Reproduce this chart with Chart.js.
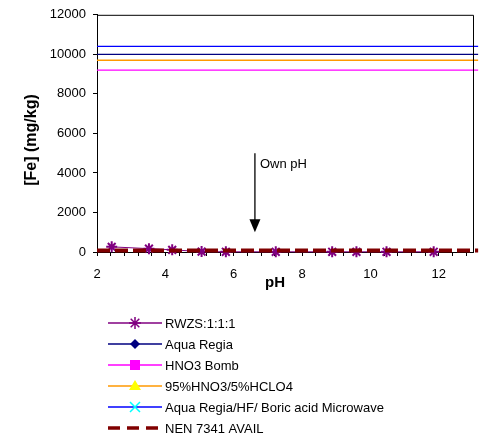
<!DOCTYPE html>
<html><head><meta charset="utf-8">
<script src="https://cdn.jsdelivr.net/npm/chart.js@4/dist/chart.umd.min.js"></script>
<style>html,body{margin:0;padding:0;background:#fff;} #wrap{width:489px;height:440px;position:relative;}</style>
</head><body><div id="wrap"><canvas id="c" width="489" height="440"></canvas></div>
<script>
// ---- data ----
const rwzsPH = [2.43, 3.52, 4.2, 5.06, 5.77, 7.23, 8.88, 9.59, 10.47, 11.85];
const rwzsFe = [260, 170, 110, 20, 10, 10, 10, 10, 10, 10];
const lineRange = [2, 13.15];
const aquaRegiaFe = 10000;
const hno3BombFe = 9200;
const hno3Hclo4Fe = 9700;
const microwaveFe = 10400;
const nen7341Fe = 80;
const ownPH = 6.62;
const arrowFe = [5000, 1000];
const xTickLabels = [2, 4, 6, 8, 10, 12];
const yTickLabels = [0, 2000, 4000, 6000, 8000, 10000, 12000];
const seriesNames = ['RWZS:1:1:1', 'Aqua Regia', 'HNO3 Bomb', '95%HNO3/5%HCLO4', 'Aqua Regia/HF/ Boric acid Microwave', 'NEN 7341 AVAIL'];
const xTitle = 'pH';
const yTitle = '[Fe] (mg/kg)';
const annotationText = 'Own pH';

const FONT = "'Liberation Sans', Arial, sans-serif";
const flat = v => lineRange.map(x => ({x, y: v}));

const data = {
  datasets: [
    {label: seriesNames[1], data: flat(aquaRegiaFe), borderColor: '#000080', borderWidth: 1.3, pointRadius: 0, clip: false},
    {label: seriesNames[2], data: flat(hno3BombFe), borderColor: '#FF00FF', borderWidth: 1.3, pointRadius: 0, clip: false},
    {label: seriesNames[3], data: flat(hno3Hclo4Fe), borderColor: '#FF9900', borderWidth: 1.3, pointRadius: 0, clip: false},
    {label: seriesNames[4], data: flat(microwaveFe), borderColor: '#0000FF', borderWidth: 1.3, pointRadius: 0, clip: false},
    {label: seriesNames[5], data: flat(nen7341Fe), borderColor: '#800000', borderWidth: 4, borderDash: [13, 5], pointRadius: 0, clip: false},
    {label: seriesNames[0], data: rwzsPH.map((x, i) => ({x, y: rwzsFe[i]})), borderColor: '#800080', borderWidth: 1,
     pointStyle: 'star', pointRadius: 5.5, pointBorderColor: '#800080', pointBorderWidth: 2, clip: false}
  ]
};

function drawMarker(ctx, kind, x, y, col, fill) {
  ctx.save();
  ctx.strokeStyle = col; ctx.fillStyle = fill || col; ctx.lineWidth = 1.5;
  ctx.beginPath();
  if (kind === 'star') {
    const r = 6;
    ctx.moveTo(x - r, y); ctx.lineTo(x + r, y);
    ctx.moveTo(x, y - r); ctx.lineTo(x, y + r);
    const d = r * 0.72;
    ctx.moveTo(x - d, y - d); ctx.lineTo(x + d, y + d);
    ctx.moveTo(x - d, y + d); ctx.lineTo(x + d, y - d);
    ctx.stroke();
  } else if (kind === 'diamond') {
    const r = 5;
    ctx.moveTo(x, y - r); ctx.lineTo(x + r, y); ctx.lineTo(x, y + r); ctx.lineTo(x - r, y); ctx.closePath(); ctx.fill();
  } else if (kind === 'square') {
    ctx.fillRect(x - 5, y - 5, 10, 10);
  } else if (kind === 'triangle') {
    ctx.moveTo(x, y - 6); ctx.lineTo(x + 6, y + 4); ctx.lineTo(x - 6, y + 4); ctx.closePath(); ctx.fill();
  } else if (kind === 'cross') {
    const r = 5;
    ctx.moveTo(x - r, y - r); ctx.lineTo(x + r, y + r);
    ctx.moveTo(x - r, y + r); ctx.lineTo(x + r, y - r);
    ctx.stroke();
  }
  ctx.restore();
}

const legendItems = [
  {line: '#800080', marker: 'star', mcol: '#800080'},
  {line: '#000080', marker: 'diamond', mcol: '#000080'},
  {line: '#FF00FF', marker: 'square', mcol: '#FF00FF'},
  {line: '#FF9900', marker: 'triangle', mcol: '#FFFF00'},
  {line: '#0000FF', marker: 'cross', mcol: '#00FFFF'},
  {line: '#800000', marker: null, dash: true}
];

const extras = {
  id: 'extras',
  afterDatasetsDraw(chart) {
    const {ctx, chartArea: a, scales: {x, y}} = chart;
    ctx.save();
    // frame
    ctx.strokeStyle = '#000'; ctx.lineWidth = 1;
    ctx.beginPath();
    ctx.moveTo(a.left, a.top + 0.5); ctx.lineTo(a.right + 0.5, a.top + 0.5); ctx.lineTo(a.right + 0.5, a.bottom);
    ctx.stroke();
    // arrow
    const ax = x.getPixelForValue(ownPH);
    const y0 = y.getPixelForValue(arrowFe[0]);
    const y1 = y.getPixelForValue(arrowFe[1]);
    ctx.lineWidth = 1.3;
    ctx.beginPath(); ctx.moveTo(ax, y0); ctx.lineTo(ax, y1 - 12); ctx.stroke();
    ctx.fillStyle = '#000';
    ctx.beginPath(); ctx.moveTo(ax - 5.5, y1 - 13); ctx.lineTo(ax + 5.5, y1 - 13); ctx.lineTo(ax, y1); ctx.closePath(); ctx.fill();
    ctx.font = '13px ' + FONT; ctx.textBaseline = 'middle'; ctx.textAlign = 'left';
    ctx.fillText(annotationText, ax + 5, y0 + 11);
    ctx.restore();
  },
  afterDraw(chart) {
    const {ctx} = chart;
    ctx.save();
    // titles
    ctx.fillStyle = '#000';
    ctx.font = 'bold 15px ' + FONT;
    ctx.textAlign = 'center'; ctx.textBaseline = 'middle';
    ctx.fillText(xTitle, 275, 283);
    ctx.save();
    ctx.font = 'bold 16px ' + FONT;
    ctx.translate(32, 140); ctx.rotate(-Math.PI / 2);
    ctx.fillText(yTitle, 0, 0);
    ctx.restore();
    // legend
    ctx.font = '13px ' + FONT; ctx.textAlign = 'left';
    legendItems.forEach((it, i) => {
      const ly = 323 + i * 21;
      ctx.save();
      ctx.strokeStyle = it.line;
      if (it.dash) { ctx.lineWidth = 3.5; ctx.setLineDash([12, 7]); } else { ctx.lineWidth = 1.3; }
      ctx.beginPath(); ctx.moveTo(108, ly); ctx.lineTo(162, ly); ctx.stroke();
      ctx.restore();
      if (it.marker) drawMarker(ctx, it.marker, 135, ly, it.mcol, it.mcol);
      ctx.fillStyle = '#000';
      ctx.fillText(seriesNames[i], 165, ly + 1);
    });
    ctx.restore();
  }
};

new Chart(document.getElementById('c'), {
  type: 'line',
  data,
  plugins: [extras],
  options: {
    responsive: false,
    animation: false,
    layout: {padding: {left: 0, right: 16, top: 10, bottom: 148}},
    plugins: {legend: {display: false}, tooltip: {enabled: false}},
    scales: {
      x: {
        type: 'linear', min: 2, max: 13,
        afterBuildTicks: s => {
          const t = [];
          for (let k = 0; 2 + 0.4 * k <= 13.001; k++) t.push({value: +(2 + 0.4 * k).toFixed(2)});
          s.ticks = t;
        },
        afterFit: s => { s.height = 40; },
        grid: {display: true, drawOnChartArea: false, drawTicks: true, tickLength: 4, color: '#000', tickColor: '#000'},
        border: {display: true, color: '#000', width: 1},
        ticks: {
          autoSkip: false, maxRotation: 0, padding: 11, color: '#000', font: {family: FONT, size: 13},
          callback: v => xTickLabels.find(l => Math.abs(l - v) < 1e-6) !== undefined ? String(Math.round(v)) : ''
        }
      },
      y: {
        type: 'linear', min: yTickLabels[0], max: yTickLabels[yTickLabels.length - 1],
        afterBuildTicks: s => { s.ticks = yTickLabels.map(v => ({value: v})); },
        afterFit: s => { s.width = 97; },
        grid: {display: true, drawOnChartArea: false, drawTicks: true, tickLength: 4, color: '#000', tickColor: '#000'},
        border: {display: true, color: '#000', width: 1},
        ticks: {padding: 7, color: '#000', font: {family: FONT, size: 13}, callback: v => String(v)}
      }
    }
  }
});
</script>
</body></html>
